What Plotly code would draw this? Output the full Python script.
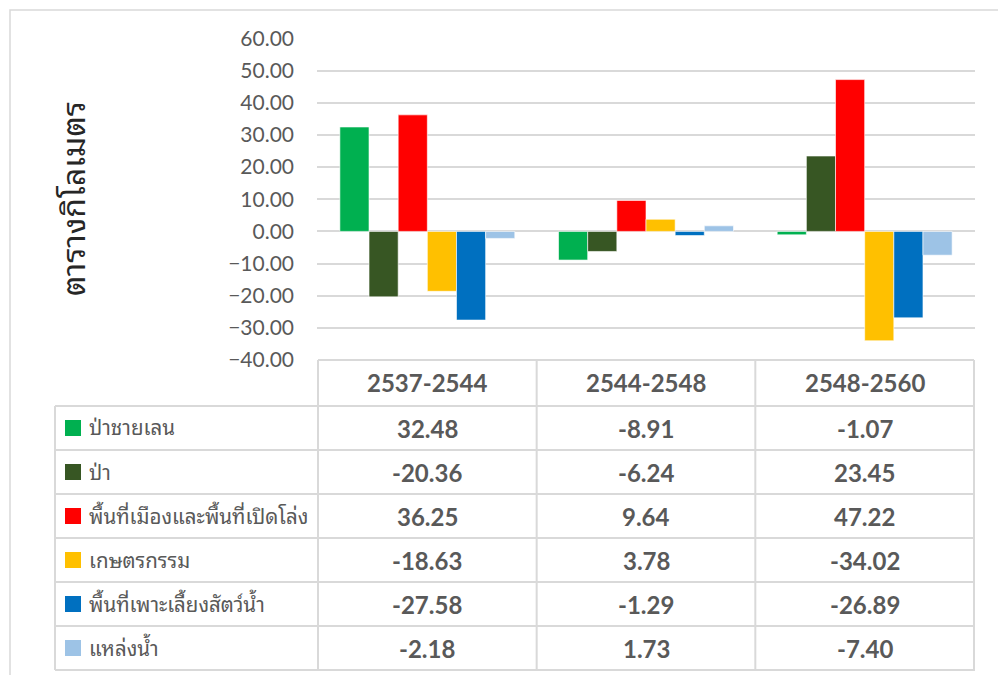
"""Land-use change per period (sq km) as grouped columns with an Excel-style data table."""
import plotly.graph_objects as go

W, H = 998, 675

PERIODS = ["2537-2544", "2544-2548", "2548-2560"]
SERIES = ["ป่าชายเลน", "ป่า", "พื้นที่เมืองและพื้นที่เปิดโล่ง",
          "เกษตรกรรม", "พื้นที่เพาะเลี้ยงสัตว์น้ำ", "แหล่งน้ำ"]
MANGROVE = [32.48, -8.91, -1.07]
FOREST = [-20.36, -6.24, 23.45]
URBAN = [36.25, 9.64, 47.22]
AGRI = [-18.63, 3.78, -34.02]
AQUA = [-27.58, -1.29, -26.89]
WATER = [-2.18, 1.73, -7.40]
VALUES = [MANGROVE, FOREST, URBAN, AGRI, AQUA, WATER]
COLORS = ["#00B050", "#375623", "#FF0000", "#FFC000", "#0070C0", "#9DC3E6"]
YTITLE = "ตารางกิโลเมตร"

FONT = "Lato, 'Noto Sans', 'DejaVu Sans', sans-serif"
THAI = "'Noto Sans Thai Looped', Tahoma, Loma, Garuda, 'Noto Sans Thai', 'Noto Sans', sans-serif"
GREY = "#595959"
LINE = "#D9D9D9"

# page geometry in pixels
PLOT_L, PLOT_R, PLOT_T, PLOT_B = 317, 975, 38.5, 360
KEY_L = 55
HEAD_B = 406
ROW_H = 44


def px(x):
    return x / W


def py(y):
    return 1 - y / H


fig = go.Figure()
for name, vals, col in zip(SERIES, VALUES, COLORS):
    fig.add_trace(go.Bar(x=PERIODS, y=vals, name=name, marker_color=col,
                         marker_line=dict(color="rgba(255,255,255,0.6)", width=1)))

shapes = []
ann = []
# outer chart border
shapes.append(dict(type="rect", xref="paper", yref="paper", x0=px(10), x1=px(W + 20),
                   y0=py(H + 20), y1=py(10), line=dict(color=LINE, width=1.5)))

n = len(SERIES)
table_b = HEAD_B + n * ROW_H
# vertical lines of the data columns
for i in range(len(PERIODS) + 1):
    shapes.append(dict(type="line", xref="x", yref="paper", x0=i - 0.5, x1=i - 0.5,
                       y0=py(table_b), y1=py(PLOT_B), line=dict(color=LINE, width=2)))
# left edge of the key column
shapes.append(dict(type="line", xref="paper", yref="paper", x0=px(KEY_L), x1=px(KEY_L),
                   y0=py(table_b), y1=py(HEAD_B), line=dict(color=LINE, width=2)))
# header top
shapes.append(dict(type="line", xref="x", yref="paper", x0=-0.5, x1=len(PERIODS) - 0.5,
                   y0=py(PLOT_B), y1=py(PLOT_B), line=dict(color=LINE, width=2)))
# row lines
for r in range(n + 1):
    y = py(HEAD_B + r * ROW_H)
    shapes.append(dict(type="line", xref="paper", yref="paper", x0=px(KEY_L), x1=px(PLOT_R),
                       y0=y, y1=y, line=dict(color=LINE, width=2)))

for p in PERIODS:
    ann.append(dict(x=p, xref="x", y=py((PLOT_B + HEAD_B) / 2), yref="paper",
                    text=f"<b>{p}</b>", showarrow=False, yanchor="middle",
                    font=dict(family=FONT, size=24, color=GREY)))

for r, (name, vals, col) in enumerate(zip(SERIES, VALUES, COLORS)):
    yc = HEAD_B + r * ROW_H + ROW_H / 2
    shapes.append(dict(type="rect", xref="paper", yref="paper", x0=px(65), x1=px(81),
                       y0=py(yc + 8), y1=py(yc - 8), fillcolor=col, line=dict(width=0)))
    ann.append(dict(x=px(87), xref="paper", y=py(yc - 2), yref="paper", text=name,
                    showarrow=False, xanchor="left", yanchor="middle",
                    font=dict(family=THAI, size=20.5, color=GREY)))
    for p, v in zip(PERIODS, vals):
        ann.append(dict(x=p, xref="x", y=py(yc), yref="paper", text=f"<b>{v:.2f}</b>",
                        showarrow=False, yanchor="middle",
                        font=dict(family=FONT, size=24, color=GREY)))

ann.append(dict(x=px(70), xref="paper", y=py(199), yref="paper", text=YTITLE,
                textangle=-90, showarrow=False, xanchor="center", yanchor="middle",
                font=dict(family=THAI, size=32, color="#262626")))

fig.update_layout(
    width=W, height=H, margin=dict(l=0, r=0, t=0, b=0),
    paper_bgcolor="white", plot_bgcolor="white",
    barmode="group", bargap=0.2, bargroupgap=0, showlegend=False,
    shapes=shapes, annotations=ann,
    xaxis=dict(domain=[px(PLOT_L), px(PLOT_R)], showticklabels=False, showgrid=False,
               zeroline=False, fixedrange=True, automargin=False),
    yaxis=dict(domain=[py(PLOT_B), py(PLOT_T)], range=[-40, 60], dtick=10,
               tickformat=".2f", showgrid=True, gridcolor=LINE, gridwidth=1.5,
               zeroline=False, ticklabelstandoff=22, automargin=False,
               tickfont=dict(family=FONT, size=21, color=GREY), fixedrange=True),
)

# the page body has a default 8px margin; drop it so the figure fills the window
fig.write_html("out.html", config={"displayModeBar": False},
               post_script="document.body.style.margin='0';"
                           "document.body.style.overflow='hidden';")
